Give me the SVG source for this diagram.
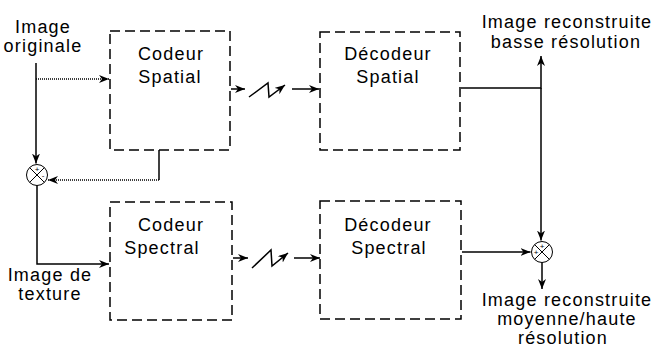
<svg xmlns="http://www.w3.org/2000/svg" width="654" height="347" viewBox="0 0 654 347">
  <style>
    .box { fill: none; stroke: #000; stroke-width: 1.5; stroke-dasharray: 10 5; }
    .lbl { font-family: "Liberation Sans", Arial, sans-serif; font-size: 18px; letter-spacing: 1.2px; fill: #000; text-anchor: middle; }
    .wire { fill: none; stroke: #000; stroke-width: 1.5; }
    .dot { fill: none; stroke: #000; stroke-width: 1.5; stroke-dasharray: 1 1; }
    .sum { fill: #fff; stroke: #000; stroke-width: 1; }
    .sign { font-family: "Liberation Sans", Arial, sans-serif; font-size: 8px; fill: #000; text-anchor: middle; }
  </style>
  <defs>
    <marker id="arrow" markerUnits="userSpaceOnUse" markerWidth="12" markerHeight="10" refX="10" refY="4" orient="auto">
      <path d="M0,0 L10,4 L0,8 L3,4 z" fill="#000"/>
    </marker>
  </defs>

  <!-- free labels -->
  <g id="input-label">
    <text class="lbl" x="43" y="33">Image</text>
    <text class="lbl" x="43" y="52">originale</text>
  </g>
  <g id="texture-label">
    <text class="lbl" x="50" y="281">Image de</text>
    <text class="lbl" x="50" y="300">texture</text>
  </g>
  <g id="low-res-label">
    <text class="lbl" x="567" y="28">Image reconstruite</text>
    <text class="lbl" x="566" y="48">basse résolution</text>
  </g>
  <g id="high-res-label">
    <text class="lbl" x="567" y="306">Image reconstruite</text>
    <text class="lbl" x="567" y="325">moyenne/haute</text>
    <text class="lbl" x="563" y="344">résolution</text>
  </g>

  <!-- processing blocks -->
  <g id="codeur-spatial">
    <rect class="box" x="110" y="31" width="120" height="119"/>
    <text class="lbl" x="171" y="60">Codeur</text>
    <text class="lbl" x="170" y="83">Spatial</text>
  </g>
  <g id="decodeur-spatial">
    <rect class="box" x="320" y="32" width="140" height="118"/>
    <text class="lbl" x="388" y="60">Décodeur</text>
    <text class="lbl" x="388" y="83">Spatial</text>
  </g>
  <g id="codeur-spectral">
    <rect class="box" x="110" y="202" width="122" height="118"/>
    <text class="lbl" x="171" y="231">Codeur</text>
    <text class="lbl" x="162" y="254">Spectral</text>
  </g>
  <g id="decodeur-spectral">
    <rect class="box" x="320" y="201" width="141" height="118"/>
    <text class="lbl" x="388" y="231">Décodeur</text>
    <text class="lbl" x="389" y="254">Spectral</text>
  </g>

  <!-- summing junctions -->
  <g id="diff-node">
    <circle class="sum" cx="37" cy="175" r="10.5"/>
    <path class="wire" style="stroke-width:1" d="M29.6,167.6 L44.4,182.4 M44.4,167.6 L29.6,182.4"/>
    <text class="sign" x="37" y="172">+</text>
    <text class="sign" x="43" y="178">-</text>
  </g>
  <g id="add-node">
    <circle class="sum" cx="542" cy="252" r="10.5"/>
    <path class="wire" style="stroke-width:1" d="M534.6,244.6 L549.4,259.4 M549.4,244.6 L534.6,259.4"/>
    <text class="sign" x="542" y="249">+</text>
    <text class="sign" x="536" y="255">+</text>
  </g>

  <!-- connectors -->
  <g id="connectors">
    <!-- input split -->
    <path class="wire" d="M36,63 V163.5" marker-end="url(#arrow)"/>
    <path class="dot" d="M36,79 H109" marker-end="url(#arrow)"/>
    <!-- spatial reconstruction fed back to the difference -->
    <path class="wire" d="M159,150 V180"/>
    <path class="dot" d="M159,180 H48" marker-end="url(#arrow)"/>
    <!-- texture into spectral coder -->
    <path class="wire" d="M37,185.5 V264 H109" marker-end="url(#arrow)"/>

    <!-- spatial channel -->
    <path class="wire" d="M231,89 H245" marker-end="url(#arrow)"/>
    <path class="wire" d="M249,97 L268,83 L269,97 L285,85" marker-end="url(#arrow)"/>
    <path class="wire" d="M292,89 H319" marker-end="url(#arrow)"/>

    <!-- spectral channel -->
    <path class="wire" d="M233,258 H248" marker-end="url(#arrow)"/>
    <path class="wire" d="M252,268 L271,250 L272,266 L288,253" marker-end="url(#arrow)"/>
    <path class="wire" d="M294,258 H320" marker-end="url(#arrow)"/>

    <!-- decoder outputs -->
    <path class="wire" d="M461,88 H541 V56" marker-end="url(#arrow)"/>
    <path class="wire" d="M541,88 V240.5" marker-end="url(#arrow)"/>
    <path class="wire" d="M462,252 H530.5" marker-end="url(#arrow)"/>
    <path class="wire" d="M542,262.5 V289" marker-end="url(#arrow)"/>
  </g>
</svg>
